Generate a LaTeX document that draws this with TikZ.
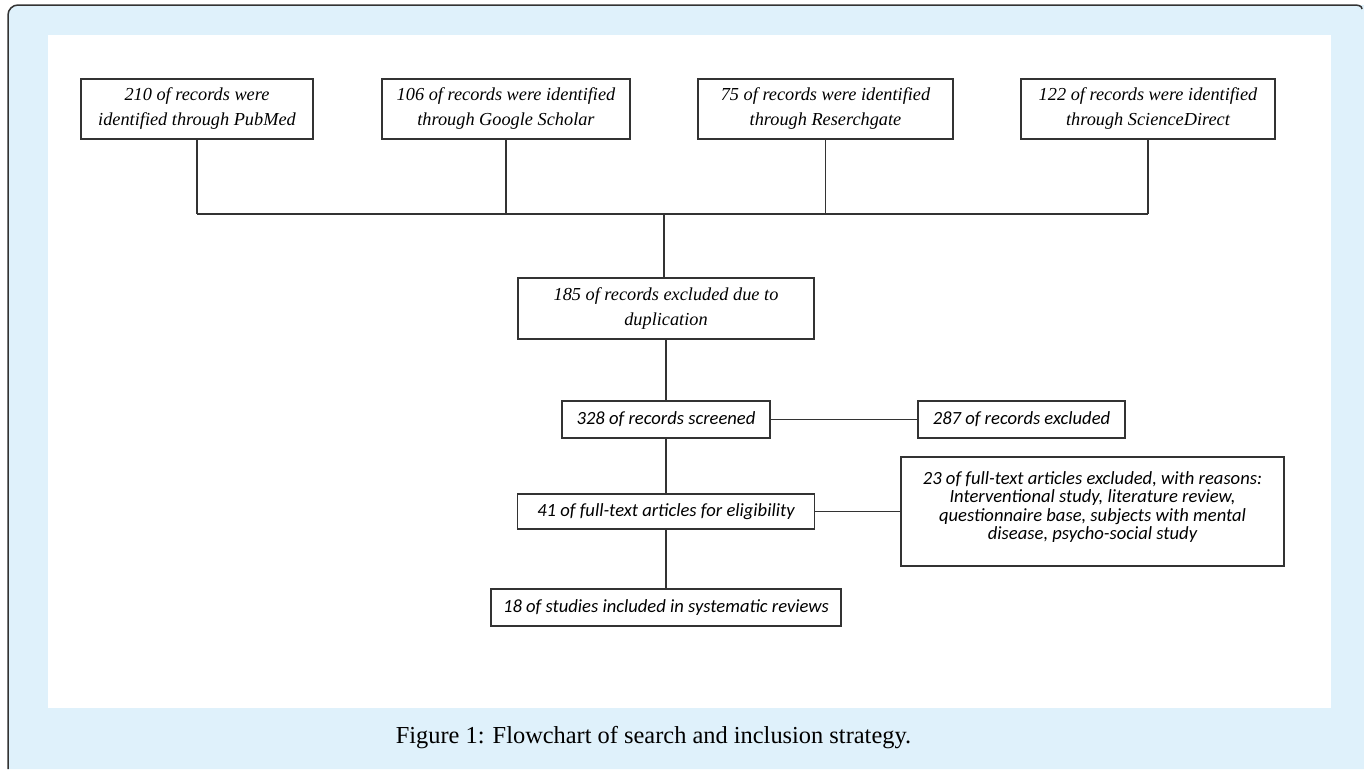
\documentclass[tikz,border=0pt]{standalone}
\usepackage{fontspec}
\setmainfont{Liberation Serif}
\newfontfamily\calfont{Carlito}
\usepackage{tikz}
\definecolor{bg}{RGB}{223, 241, 251}
\definecolor{ln}{RGB}{51, 51, 51}

\begin{document}
\begin{tikzpicture}[
tbox/.style={rectangle, draw=ln, line width=1.2pt, fill=white, inner sep=0pt, align=center, font=\fontsize{18.3}{25}\selectfont\itshape},
cbox/.style={rectangle, draw=ln, line width=1.2pt, fill=white, inner sep=0pt, align=center, font=\calfont\fontsize{18.6}{18.6}\selectfont\itshape},
conn/.style={line width=1.2pt, color=ln}]
\useasboundingbox (0pt, 0pt) rectangle (1364pt, -769pt);
\fill [bg] (8pt, -769pt) [rounded corners=10pt] -- (8pt, -5pt) [sharp corners] -- (1364pt, -5pt) -- (1364pt, -769pt) -- cycle;
\draw [line width=1.5pt, color=ln] (8pt, -769pt) [rounded corners=10pt] -- (8pt, -5pt) [sharp corners] -- (1354pt, -5pt) to [out=0, in=90] (1362pt, -9pt);
\fill [white] (48pt, -35pt) rectangle (1331pt, -708pt);
\node (1) [tbox, minimum width=232pt, minimum height=60pt] at (197.0pt, -109.0pt) {210 of records were\\identified through PubMed};
\node (2) [tbox, minimum width=248pt, minimum height=60pt] at (506.0pt, -109.0pt) {106 of records were identified\\through Google Scholar};
\node (3) [tbox, minimum width=255pt, minimum height=60pt] at (825.5pt, -109.0pt) {75 of records were identified\\through Reserchgate};
\node (4) [tbox, minimum width=254pt, minimum height=60pt] at (1148.0pt, -109.0pt) {122 of records were identified\\through ScienceDirect};
\node (5) [tbox, minimum width=296pt, minimum height=61pt] at (666.0pt, -308.5pt) {185 of records excluded due to\\duplication};
\node (6) [cbox, minimum width=208pt, minimum height=37pt] at (666.0pt, -419.5pt) {328 of records screened};
\node (7) [cbox, minimum width=207pt, minimum height=37pt] at (1021.5pt, -419.5pt) {287 of records excluded};
\node (8) [cbox, minimum width=297pt, minimum height=35pt] at (666.0pt, -511.5pt) {41 of full-text articles for eligibility};
\node (9) [cbox, minimum width=383pt, minimum height=109pt] at (1092.5pt, -511.5pt) {23 of full-text articles excluded, with reasons:\\Interventional study, literature review,\\questionnaire base, subjects with mental\\disease, psycho-social study\\[-6.6pt]};
\node (10) [cbox, minimum width=350pt, minimum height=37pt] at (666.0pt, -607.5pt) {18 of studies included in systematic reviews};
\node (cap) at (653.5pt, -738.0pt) {\fontsize{24.4}{28}\selectfont Figure 1: Flowchart of search and inclusion strategy.};
\coordinate (b1) at (197.0pt, -214.0pt);
\coordinate (b2) at (506.0pt, -214.0pt);
\coordinate (b3) at (825.5pt, -214.0pt);
\coordinate (b4) at (1148.0pt, -214.0pt);
\coordinate (j) at (664.0pt, -214.0pt);
\draw [conn] (1) to (b1);
\draw [conn] (2) to (b2);
\draw [conn] (3) to (b3);
\draw [conn] (4) to (b4);
\draw [conn] (b1) to (b4);
\draw [conn] (j) to (j |- 5.north);
\draw [conn] (5) to (6);
\draw [conn] (6) to (7);
\draw [conn] (6) to (8);
\draw [conn] (8) to (9);
\draw [conn] (8) to (10);
\end{tikzpicture}
\end{document}
